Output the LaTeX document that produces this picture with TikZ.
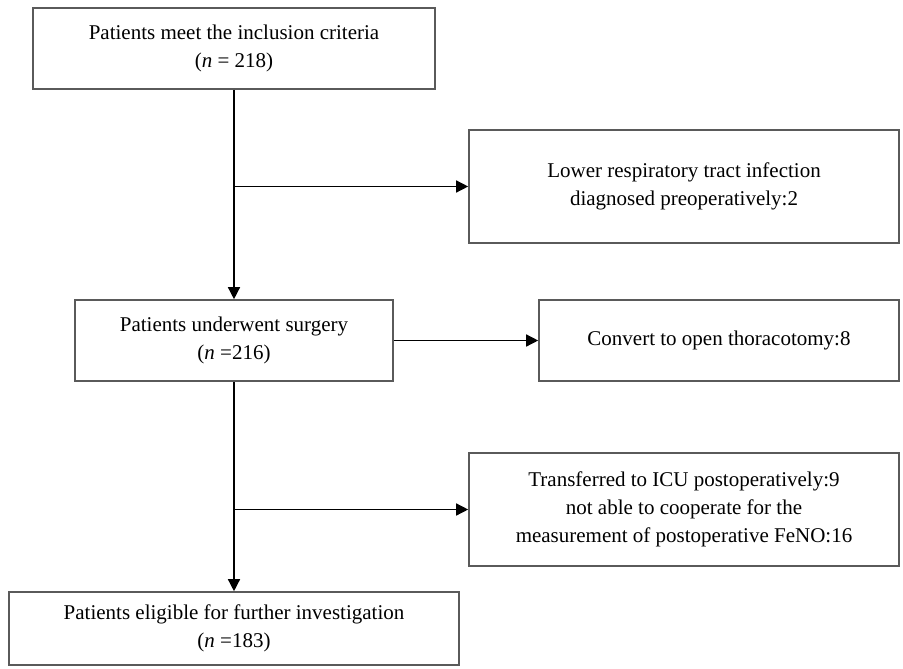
\documentclass[tikz,border=0pt]{standalone}
\usepackage{fontspec}
\setmainfont{Liberation Serif}
\usetikzlibrary{arrows.meta, positioning}
\definecolor{boxgray}{RGB}{90,90,90}
\tikzset{
  flowbox/.style={draw=boxgray, line width=1.6pt, align=center, inner sep=0pt,
    font=\fontsize{21}{28}\selectfont},
  flowarrow/.style={line width=1.4pt, -{Triangle[length=12pt,width=12pt]}},
}
\begin{document}
\begin{tikzpicture}[x=1pt,y=-1pt]
  \useasboundingbox (0,0) rectangle (903,669);

  % main column
  \node[flowbox, minimum width=402pt, minimum height=81pt] (incl) at (234, 48.5)
    {Patients meet the inclusion criteria\\(\textit{n} = 218)};
  \node[flowbox, minimum width=318pt, minimum height=81pt] (surg) at (234, 340.5)
    {Patients underwent surgery\\(\textit{n} =216)};
  \node[flowbox, minimum width=450pt, minimum height=73pt] (elig) at (234, 628.5)
    {Patients eligible for further investigation\\(\textit{n} =183)};

  % exclusions
  \node[flowbox, minimum width=430pt, minimum height=113pt] (lrti) at (684, 186.5)
    {Lower respiratory tract infection\\diagnosed preoperatively:2};
  \node[flowbox, minimum width=360pt, minimum height=81pt] (conv) at (719, 340.5)
    {Convert to open thoracotomy:8};
  \node[flowbox, minimum width=430pt, minimum height=113pt] (icu) at (684, 509.5)
    {Transferred to ICU postoperatively:9\\not able to cooperate for the\\measurement of postoperative FeNO:16};

  % branch points
  \coordinate (b1) at (incl.south |- lrti.west);
  \coordinate (b2) at (surg.south |- icu.west);

  \draw[flowarrow] (incl.south) -- (surg.north);
  \draw[flowarrow] (surg.south) -- (elig.north);
  \draw[flowarrow] (b1) -- (lrti.west);
  \draw[flowarrow] (surg.east) -- (conv.west);
  \draw[flowarrow] (b2) -- (icu.west);
\end{tikzpicture}
\end{document}
